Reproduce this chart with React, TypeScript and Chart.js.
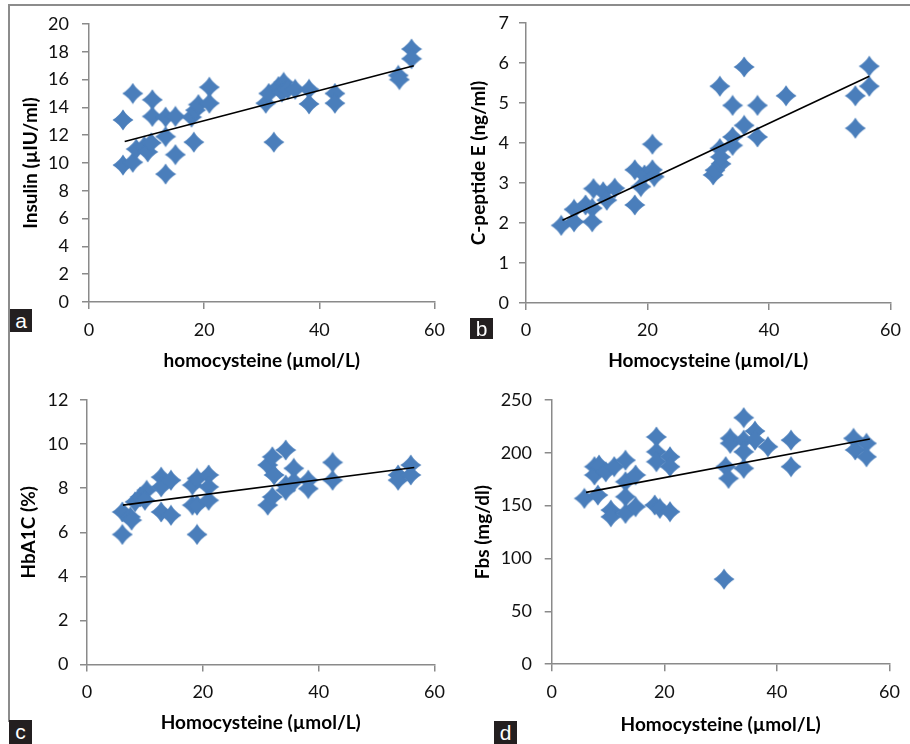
import React, { useEffect, useRef } from 'react';
import { Chart, registerables } from 'chart.js';
Chart.register(...registerables);

// ---------- data ----------
// a: Insulin vs homocysteine
const insulinHcy = [5.9, 5.9, 7.6, 7.6, 8.2, 9.6, 10.2, 10.8, 11.0, 11.0, 13.3, 13.3, 13.3, 15.0, 15.0, 17.8, 18.2, 18.5, 19.0, 20.9, 20.9, 30.7, 31.2, 32.1, 32.9, 33.8, 33.5, 34.5, 35.8, 38.2, 38.2, 42.7, 42.7, 53.7, 53.9, 56.0, 56.0];
const insulinVal = [13.1, 9.85, 15.0, 10.05, 11.0, 11.2, 10.8, 11.45, 14.55, 13.35, 13.3, 11.9, 9.2, 13.35, 10.6, 13.3, 11.5, 13.8, 14.2, 15.45, 14.3, 14.3, 15.0, 11.5, 15.5, 15.8, 15.1, 15.3, 15.3, 15.3, 14.25, 15.0, 14.3, 16.3, 16.0, 18.2, 17.5];
const insulinTrendX = [6.2, 56.4];
const insulinTrendY = [11.55, 17.0];

// b: C-peptide vs homocysteine
const cpepHcy = [5.8, 7.9, 7.9, 9.8, 10.9, 10.9, 11.1, 12.7, 13.3, 14.6, 17.9, 17.9, 18.9, 19.5, 20.8, 20.8, 21.1, 30.8, 31.1, 31.9, 31.9, 32.1, 32.0, 34.0, 34.0, 34.0, 35.9, 35.9, 38.1, 38.1, 42.8, 54.2, 54.2, 56.5, 56.5];
const cpepVal = [1.94, 2.34, 2.03, 2.45, 2.37, 2.03, 2.86, 2.78, 2.57, 2.87, 3.33, 2.45, 2.91, 3.2, 3.97, 3.33, 3.16, 3.2, 3.32, 5.42, 3.86, 3.48, 3.65, 4.94, 4.15, 3.94, 5.9, 4.44, 4.94, 4.15, 5.18, 5.18, 4.37, 5.92, 5.42];
const cpepTrendX = [6.0, 56.5];
const cpepTrendY = [2.07, 5.67];

// c: HbA1C vs homocysteine
const hbaHcy = [6.1, 6.1, 7.5, 7.7, 8.3, 9.2, 10.3, 10.0, 12.8, 12.8, 12.8, 14.5, 14.5, 18.2, 18.2, 19.0, 19.0, 19.0, 21.0, 21.0, 21.0, 31.2, 31.2, 32.0, 32.0, 32.3, 34.3, 34.3, 34.3, 35.7, 35.7, 38.2, 38.2, 42.4, 42.4, 53.7, 53.7, 55.9, 55.9];
const hbaVal = [6.92, 5.9, 6.7, 6.55, 7.38, 7.6, 7.9, 7.45, 8.5, 8.06, 6.92, 8.36, 6.77, 8.14, 7.23, 8.44, 7.23, 5.9, 8.6, 8.06, 7.45, 7.23, 9.05, 9.42, 7.6, 8.6, 9.73, 8.14, 7.9, 8.9, 8.3, 8.36, 7.98, 9.17, 8.36, 8.6, 8.36, 9.05, 8.6];
const hbaTrendX = [6.2, 56.5];
const hbaTrendY = [7.23, 8.94];

// d: Fbs vs homocysteine
const fbsHcy = [5.8, 7.6, 7.6, 8.4, 8.2, 9.6, 10.5, 10.5, 11.1, 13.1, 13.1, 13.1, 13.1, 14.9, 14.9, 18.6, 18.6, 18.6, 18.3, 19.2, 21.0, 21.0, 21.0, 30.6, 30.9, 31.4, 31.7, 31.7, 34.1, 34.1, 34.1, 34.1, 36.1, 36.1, 38.4, 42.5, 42.5, 53.6, 53.9, 55.9, 55.9];
const fbsVal = [156.9, 186.9, 179, 188.4, 160, 182, 145.8, 139.5, 186.9, 193, 172.7, 158.5, 142.7, 179, 149, 215, 201, 191.6, 150.6, 147.4, 196.3, 186.9, 144.3, 80.5, 186.9, 175.8, 213.7, 209, 233.3, 212, 201, 185.3, 220.6, 212, 205.8, 212, 186.9, 213.7, 202.7, 209, 196.3];
const fbsTrendX = [6.1, 56.5];
const fbsTrendY = [162.6, 213.1];

const xTicksMax = 60;
const xTickStep = 20;

// ---------- styling ----------
const BLUE = '#4a7ebb';
const AXIS = '#8a8a8a';
const FONT = 'Lato';

function makeMarker(): HTMLCanvasElement {
  const r = 10.5;
  const s = 22;
  const c = document.createElement('canvas');
  c.width = s;
  c.height = s;
  const g = c.getContext('2d')!;
  const m = s / 2;
  const k = r * 0.38;
  g.fillStyle = BLUE;
  g.beginPath();
  g.moveTo(m, m - r);
  g.quadraticCurveTo(m + k, m - k, m + r, m);
  g.quadraticCurveTo(m + k, m + k, m, m + r);
  g.quadraticCurveTo(m - k, m + k, m - r, m);
  g.quadraticCurveTo(m - k, m - k, m, m - r);
  g.closePath();
  g.fill();
  return c;
}

type PanelCfg = {
  left: number; top: number; w: number; h: number;
  pad: { left: number; top: number; right: number; bottom: number };
  yWidth: number; xHeight: number; yTickPad: number; xTickPad: number;
  yMax: number; yStep: number;
  xs: number[]; ys: number[]; tx: number[]; ty: number[];
  xTitle: string; yTitle: string;
  tag: string; tagBox: { left: number; top: number; w: number; h: number };
};

const panels: PanelCfg[] = [
  {
    left: 0, top: 0, w: 455, h: 372,
    pad: { left: 19, top: 24, right: 18, bottom: 0 },
    yWidth: 70, xHeight: 70, yTickPad: 13, xTickPad: 10,
    yMax: 20, yStep: 2,
    xs: insulinHcy, ys: insulinVal, tx: insulinTrendX, ty: insulinTrendY,
    xTitle: 'homocysteine (µmol/L)', yTitle: 'Insulin (µIU/ml)',
    tag: 'a', tagBox: { left: 10, top: 309, w: 22, h: 23 },
  },
  {
    left: 455, top: 0, w: 455, h: 372,
    pad: { left: 12.5, top: 23, right: 12, bottom: 0 },
    yWidth: 58.5, xHeight: 69, yTickPad: 10, xTickPad: 9,
    yMax: 7, yStep: 1,
    xs: cpepHcy, ys: cpepVal, tx: cpepTrendX, ty: cpepTrendY,
    xTitle: 'Homocysteine (µmol/L)', yTitle: 'C-peptide E (ng/ml)',
    tag: 'b', tagBox: { left: 470, top: 318, w: 23, h: 21 },
  },
  {
    left: 0, top: 372, w: 455, h: 372,
    pad: { left: 17, top: 28, right: 13, bottom: 9.5 },
    yWidth: 70, xHeight: 70, yTickPad: 11.5, xTickPad: 10,
    yMax: 12, yStep: 2,
    xs: hbaHcy, ys: hbaVal, tx: hbaTrendX, ty: hbaTrendY,
    xTitle: 'Homocysteine (µmol/L)', yTitle: 'HbA1C (%)',
    tag: 'c', tagBox: { left: 9, top: 720, w: 23, h: 24 },
  },
  {
    left: 455, top: 372, w: 455, h: 372,
    pad: { left: 16, top: 28, right: 15, bottom: 8 },
    yWidth: 80.7, xHeight: 71.8, yTickPad: 12.7, xTickPad: 10,
    yMax: 250, yStep: 50,
    xs: fbsHcy, ys: fbsVal, tx: fbsTrendX, ty: fbsTrendY,
    xTitle: 'Homocysteine (µmol/L)', yTitle: 'Fbs (mg/dl)',
    tag: 'd', tagBox: { left: 494, top: 721, w: 23, h: 23 },
  },
];

function Panel({ cfg }: { cfg: PanelCfg }) {
  const ref = useRef<HTMLCanvasElement>(null);
  useEffect(() => {
    const marker = makeMarker();
    const pts = cfg.xs.map((x, i) => ({ x, y: cfg.ys[i] }));
    const trend = cfg.tx.map((x, i) => ({ x, y: cfg.ty[i] }));
    const tickFont = { family: FONT, size: 18 };
    const titleFont = { family: FONT, size: 19, weight: 'bold' as const };
    const chart = new Chart(ref.current!, {
      type: 'scatter',
      data: {
        datasets: [
          {
            type: 'line',
            data: trend,
            borderColor: '#000',
            borderWidth: 1.6,
            pointRadius: 0,
            showLine: true,
            fill: false,
            order: 0,
          } as any,
          {
            data: pts,
            pointStyle: marker,
            pointRadius: 10,
            backgroundColor: BLUE,
            borderWidth: 0,
            order: 1,
          } as any,
        ],
      },
      options: {
        animation: false,
        responsive: false,
        devicePixelRatio: 1,
        events: [],
        plugins: { legend: { display: false }, tooltip: { enabled: false } },
        layout: { padding: cfg.pad },
        scales: {
          x: {
            type: 'linear',
            min: 0,
            max: xTicksMax,
            ticks: { stepSize: xTickStep, font: tickFont, color: '#111', padding: cfg.xTickPad, maxRotation: 0 },
            grid: { drawOnChartArea: false, drawTicks: true, tickLength: 7, color: AXIS, lineWidth: 1.5 },
            border: { display: true, color: AXIS, width: 1.5 },
            title: { display: true, text: cfg.xTitle, font: titleFont, color: '#000', padding: 0 },
            afterFit: (s: any) => { s.height = cfg.xHeight; },
          },
          y: {
            type: 'linear',
            min: 0,
            max: cfg.yMax,
            ticks: { stepSize: cfg.yStep, font: tickFont, color: '#111', padding: cfg.yTickPad },
            grid: { drawOnChartArea: false, drawTicks: true, tickLength: 7, color: AXIS, lineWidth: 1.5 },
            border: { display: true, color: AXIS, width: 1.5 },
            title: { display: true, text: cfg.yTitle, font: titleFont, color: '#000', padding: 0 },
            afterFit: (s: any) => { s.width = cfg.yWidth; },
          },
        },
      } as any,
    });
    return () => chart.destroy();
  }, [cfg]);
  return (
    <canvas
      ref={ref}
      width={cfg.w}
      height={cfg.h}
      style={{ position: 'absolute', left: cfg.left, top: cfg.top, width: cfg.w, height: cfg.h }}
    />
  );
}

export default function App() {
  return (
    <div style={{ position: 'absolute', left: 0, top: 0, width: 910, height: 744, background: '#fff', overflow: 'hidden' }}>
      <div
        style={{
          position: 'absolute', left: 8, top: 4, width: 910, height: 716,
          borderTop: '2px solid #8c8c8c', borderLeft: '2px solid #8c8c8c',
        }}
      />
      {panels.map((p) => (
        <Panel key={p.tag} cfg={p} />
      ))}
      {panels.map((p) => (
        <div
          key={'t' + p.tag}
          style={{
            position: 'absolute', left: p.tagBox.left, top: p.tagBox.top, width: p.tagBox.w, height: p.tagBox.h,
            background: '#231f20', color: '#fff', fontFamily: 'Liberation Sans, Arial, sans-serif', fontSize: 21,
            lineHeight: p.tagBox.h + 'px', textAlign: 'center',
          }}
        >
          {p.tag}
        </div>
      ))}
    </div>
  );
}
